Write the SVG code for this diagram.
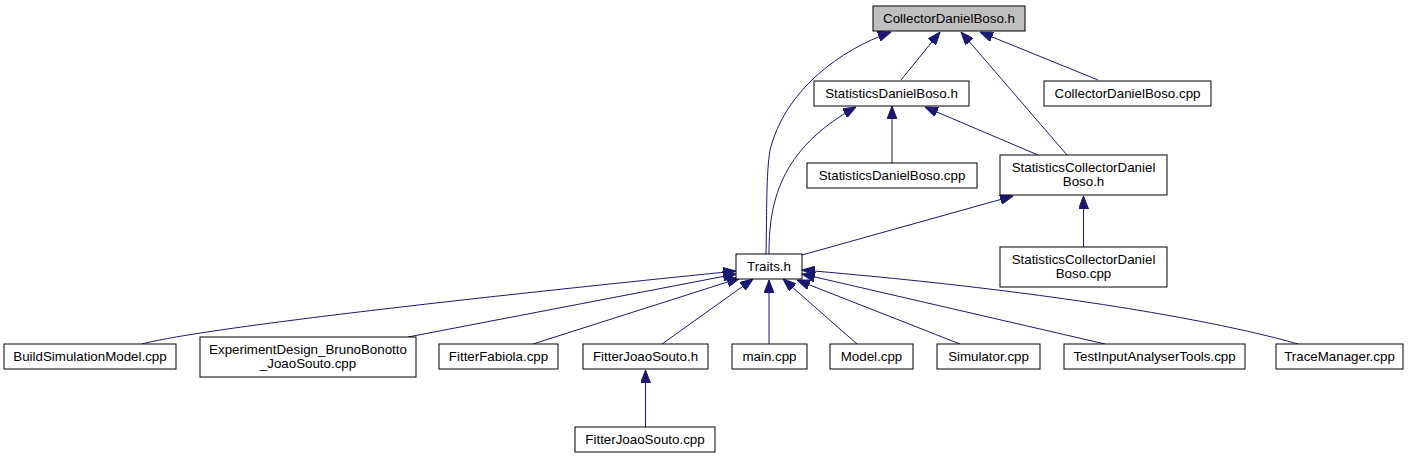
<svg xmlns="http://www.w3.org/2000/svg" width="1409" height="459" viewBox="0 0 1409 459">
<style>
.node rect{fill:#ffffff;stroke:#000000;stroke-width:1}
.node.root rect{fill:#bfbfbf}
.node text{font-family:"Liberation Sans",Arial,Helvetica,sans-serif;font-size:13.33px;fill:#000000;text-anchor:middle}
.edges path{fill:none;stroke:#191970;stroke-width:1;marker-end:url(#arr)}
</style>
<defs>
<marker id="arr" markerUnits="userSpaceOnUse" viewBox="0 0 13 10" refX="13" refY="5" markerWidth="13" markerHeight="10" orient="auto">
<path d="M0,0 L13,5 L0,10 Z" fill="#191970" stroke="#191970" stroke-width="1"/>
</marker>
</defs>
<rect x="0" y="0" width="1409" height="459" fill="#ffffff"/>
<g id="edges" class="edges">
<path d="M901,80 L940,32"/>
<path d="M766,254 C767,210 766,175 770,150 C785,90 840,50 891,32"/>
<path d="M1067,155 L961,32"/>
<path d="M1098,80 L980,32"/>
<path d="M769,254 C769,205 778,150 856,107"/>
<path d="M892,163 L892,106"/>
<path d="M1038,155 L925,107"/>
<path d="M802,255 L1013,196"/>
<path d="M1083.5,247 L1083.5,196"/>
<path d="M142,344 C190,331 400,305 736,271"/>
<path d="M408,337 L736,274"/>
<path d="M533,344 L740,278"/>
<path d="M662,344 L753,279"/>
<path d="M769,344 L769,280"/>
<path d="M857,344 L783,279"/>
<path d="M960,344 L797,280"/>
<path d="M1105,344 L802,274"/>
<path d="M1298,344 C1250,330 1100,295 802,270"/>
<path d="M645.5,427 L645.5,370"/>
</g>
<g id="node-CollectorDanielBoso_h" class="node root"><rect x="873" y="6" width="152" height="25"/><text x="949" y="23">CollectorDanielBoso.h</text></g>
<g id="node-StatisticsDanielBoso_h" class="node"><rect x="814" y="81" width="155" height="25"/><text x="891.5" y="98">StatisticsDanielBoso.h</text></g>
<g id="node-CollectorDanielBoso_cpp" class="node"><rect x="1044" y="81" width="167" height="25"/><text x="1127.5" y="98">CollectorDanielBoso.cpp</text></g>
<g id="node-StatisticsDanielBoso_cpp" class="node"><rect x="807" y="163" width="170" height="25"/><text x="892" y="180">StatisticsDanielBoso.cpp</text></g>
<g id="node-StatisticsCollectorDanielBoso_h" class="node"><rect x="1000" y="155" width="167" height="40"/><text x="1083.5" y="172">StatisticsCollectorDaniel</text><text x="1083.5" y="186">Boso.h</text></g>
<g id="node-Traits_h" class="node"><rect x="736" y="254" width="66" height="25"/><text x="769" y="271">Traits.h</text></g>
<g id="node-StatisticsCollectorDanielBoso_cpp" class="node"><rect x="1000" y="247" width="167" height="40"/><text x="1083.5" y="264">StatisticsCollectorDaniel</text><text x="1083.5" y="278">Boso.cpp</text></g>
<g id="node-BuildSimulationModel_cpp" class="node"><rect x="4" y="344" width="172" height="25"/><text x="90" y="361">BuildSimulationModel.cpp</text></g>
<g id="node-ExperimentDesign" class="node"><rect x="200" y="337" width="216" height="40"/><text x="308" y="354">ExperimentDesign_BrunoBonotto</text><text x="308" y="368">_JoaoSouto.cpp</text></g>
<g id="node-FitterFabiola_cpp" class="node"><rect x="439" y="344" width="119" height="25"/><text x="498.5" y="361">FitterFabiola.cpp</text></g>
<g id="node-FitterJoaoSouto_h" class="node"><rect x="583" y="344" width="125" height="25"/><text x="645.5" y="361">FitterJoaoSouto.h</text></g>
<g id="node-main_cpp" class="node"><rect x="732" y="344" width="75" height="25"/><text x="769.5" y="361">main.cpp</text></g>
<g id="node-Model_cpp" class="node"><rect x="830" y="344" width="83" height="25"/><text x="871.5" y="361">Model.cpp</text></g>
<g id="node-Simulator_cpp" class="node"><rect x="937" y="344" width="103" height="25"/><text x="988.5" y="361">Simulator.cpp</text></g>
<g id="node-TestInputAnalyserTools_cpp" class="node"><rect x="1064" y="344" width="181" height="25"/><text x="1154.5" y="361">TestInputAnalyserTools.cpp</text></g>
<g id="node-TraceManager_cpp" class="node"><rect x="1276" y="344" width="127" height="25"/><text x="1339.5" y="361">TraceManager.cpp</text></g>
<g id="node-FitterJoaoSouto_cpp" class="node"><rect x="575" y="427" width="140" height="25"/><text x="645" y="444">FitterJoaoSouto.cpp</text></g>
</svg>
